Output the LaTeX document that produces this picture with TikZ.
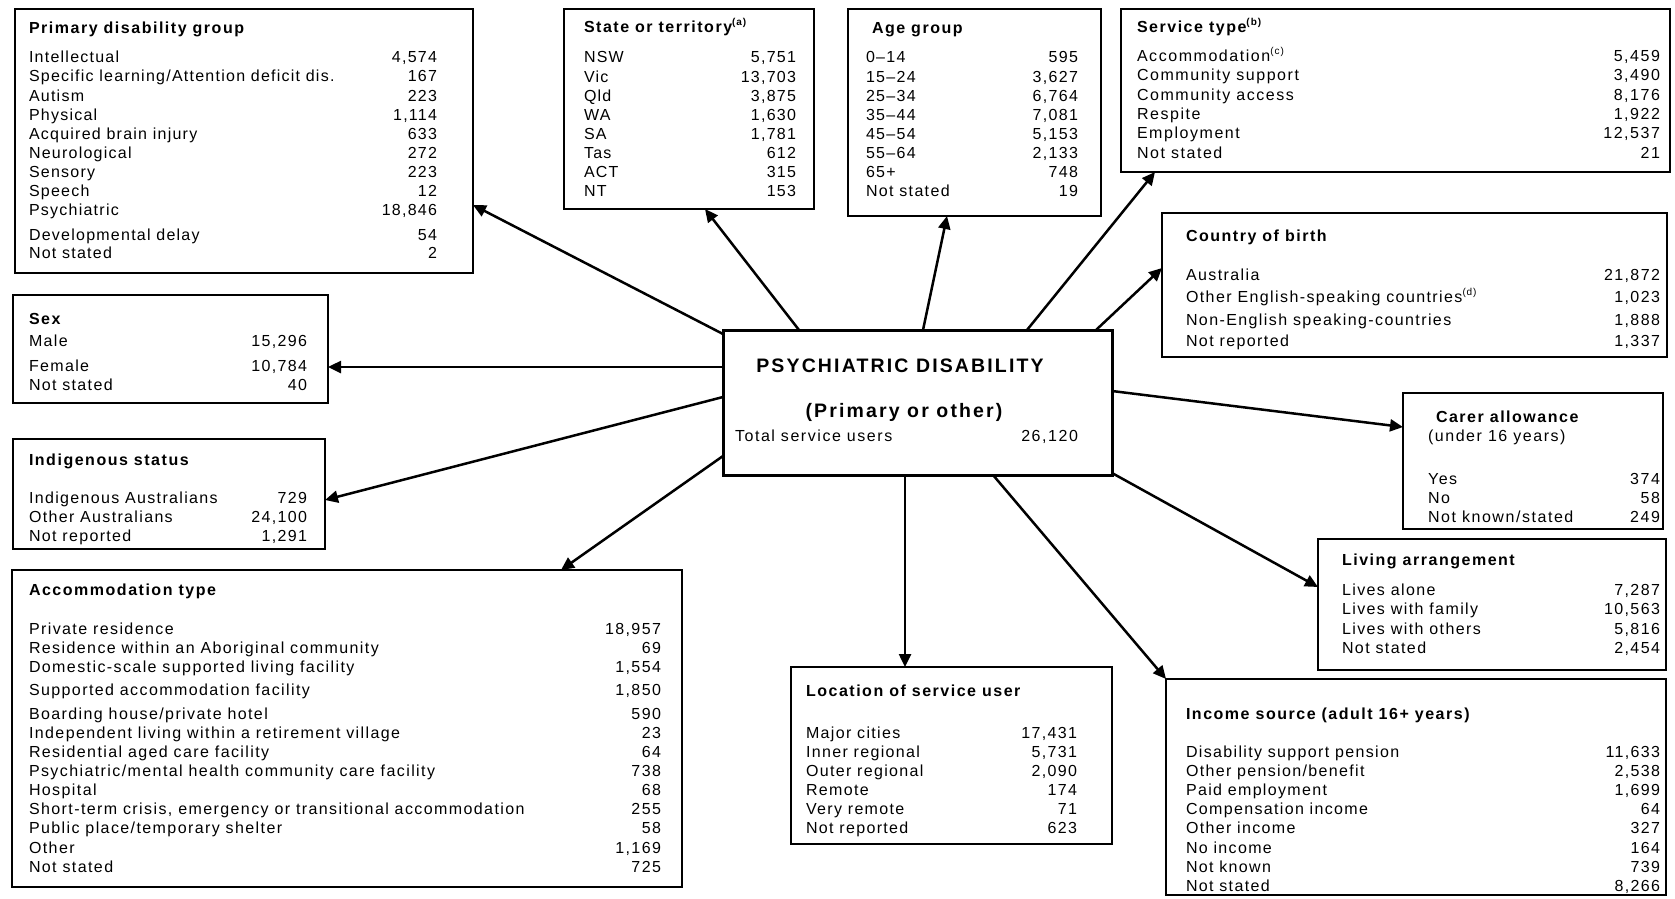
\documentclass[tikz,border=0pt]{standalone}
\usepackage{fontspec}
\setmainfont{Liberation Sans}[LetterSpace=8.3]
\newfontfamily\lsA{Liberation Sans}[LetterSpace=7.8]
\newfontfamily\lsB{Liberation Sans}[LetterSpace=8.4]
\newfontfamily\lsC{Liberation Sans}[LetterSpace=8.8]
\newfontfamily\lsD{Liberation Sans}[LetterSpace=9.7]
\newfontfamily\hdfont{Liberation Sans}[LetterSpace=9.5]
\newfontfamily\ctfont{Liberation Sans}[LetterSpace=11]
\usetikzlibrary{arrows.meta,calc,fit}
\newcommand\rw[5]{\node[txt,anchor=base west] (#1l#2) at (\xl,#3) {#4};\node[txt,anchor=base east] (#1v#2) at (\xr,#3) {#5};}
\newcommand\supb[1]{\raisebox{7pt}{\fontsize{10}{10}\selectfont\bfseries(#1)}}
\newcommand\supr[1]{\raisebox{7pt}{\fontsize{10}{10}\selectfont(#1)}}
\begin{document}
\begin{tikzpicture}[x=1pt,y=-1pt,
  txt/.style={inner sep=0pt,outer sep=0pt,font=\fontsize{16}{19}\rf\selectfont},
  hdr/.style={inner sep=0pt,outer sep=0pt,font=\fontsize{16}{19}\selectfont\hdfont\bfseries},
  box/.style={draw,line width=1.2pt,inner sep=0pt,outer sep=0pt},
  ctrbox/.style={draw,line width=3pt,inner sep=0pt,outer sep=0pt},
  arr/.style={line width=2.5pt,-{Triangle[length=13pt,width=12pt]}}]
\useasboundingbox (0,0) rectangle (1675,898);
\fill[white] (0,0) rectangle (1675,898);

% boxes
\node[box,fit={(15,9) (473,273)}] (pdg) {};
\node[box,fit={(564,9) (814,209)}] (sot) {};
\node[box,fit={(848,9) (1101,216)}] (age) {};
\node[box,fit={(1121,9) (1670,172)}] (svc) {};
\node[box,fit={(1162,213) (1667,357)}] (cob) {};
\node[box,fit={(13,295) (328,403)}] (sex) {};
\node[box,fit={(13,439) (325,549)}] (ind) {};
\node[box,fit={(12,570) (682,887)}] (acc) {};
\node[box,fit={(791,667) (1112,844)}] (loc) {};
\node[box,fit={(1403,393) (1663,529)}] (car) {};
\node[box,fit={(1318,539) (1666,670)}] (liv) {};
\node[box,fit={(1166,679) (1666,895)}] (inc) {};
\node[ctrbox,fit={(723,330) (1112,475)}] (ctr) {};

% centre text
\node[inner sep=0pt,font=\fontsize{19.5}{22}\selectfont\ctfont\bfseries,anchor=base] (ctrt1) at (900,372) {PSYCHIATRIC DISABILITY};
\node[inner sep=0pt,font=\fontsize{19.5}{22}\selectfont\ctfont\bfseries,anchor=base] (ctrt2) at (904,417) {(Primary or other)};
\def\rf{\lsD}
\node[txt,anchor=base west] (ctrl) at (735,441) {Total service users};
\node[txt,anchor=base east] (ctrv) at (1078,441) {26,120};

% Primary disability group
\def\rf{\lsA}\def\xl{29}\def\xr{437}
\node[hdr,anchor=base west] (pdgh) at (29,33) {Primary disability group};
\rw{pdg}{1}{62}{Intellectual}{4,574}
\rw{pdg}{2}{81}{Specific learning/Attention deficit dis.}{167}
\rw{pdg}{3}{101}{Autism}{223}
\rw{pdg}{4}{120}{Physical}{1,114}
\rw{pdg}{5}{139}{Acquired brain injury}{633}
\rw{pdg}{6}{158}{Neurological}{272}
\rw{pdg}{7}{177}{Sensory}{223}
\rw{pdg}{8}{196}{Speech}{12}
\rw{pdg}{9}{215}{Psychiatric}{18,846}
\rw{pdg}{10}{240}{Developmental delay}{54}
\rw{pdg}{11}{258}{Not stated}{2}

% State or territory
\def\rf{\lsA}\def\xl{584}\def\xr{796}
\node[hdr,anchor=base west] (soth) at (584,32) {State or territory\supb{a}};
\rw{sot}{1}{62}{NSW}{5,751}
\rw{sot}{2}{82}{Vic}{13,703}
\rw{sot}{3}{101}{Qld}{3,875}
\rw{sot}{4}{120}{WA}{1,630}
\rw{sot}{5}{139}{SA}{1,781}
\rw{sot}{6}{158}{Tas}{612}
\rw{sot}{7}{177}{ACT}{315}
\rw{sot}{8}{196}{NT}{153}

% Age group
\def\rf{\lsB}\def\xl{866}\def\xr{1078}
\node[hdr,anchor=base west] (ageh) at (872,33) {Age group};
\rw{age}{1}{62}{0–14}{595}
\rw{age}{2}{82}{15–24}{3,627}
\rw{age}{3}{101}{25–34}{6,764}
\rw{age}{4}{120}{35–44}{7,081}
\rw{age}{5}{139}{45–54}{5,153}
\rw{age}{6}{158}{55–64}{2,133}
\rw{age}{7}{177}{65+}{748}
\rw{age}{8}{196}{Not stated}{19}

% Service type
\def\rf{\lsD}\def\xl{1137}\def\xr{1660}
\node[hdr,anchor=base west] (svch) at (1137,32) {Service type\supb{b}};
\rw{svc}{1}{61}{Accommodation\supr{c}}{5,459}
\rw{svc}{2}{80}{Community support}{3,490}
\rw{svc}{3}{100}{Community access}{8,176}
\rw{svc}{4}{119}{Respite}{1,922}
\rw{svc}{5}{138}{Employment}{12,537}
\rw{svc}{6}{158}{Not stated}{21}

% Country of birth
\def\rf{\lsC}\def\xl{1186}\def\xr{1660}
\node[hdr,anchor=base west] (cobh) at (1186,241) {Country of birth};
\rw{cob}{1}{280}{Australia}{21,872}
\rw{cob}{2}{302}{Other English-speaking countries\supr{d}}{1,023}
\rw{cob}{3}{325}{Non-English speaking-countries}{1,888}
\rw{cob}{4}{346}{Not reported}{1,337}

% Sex
\def\rf{\lsB}\def\xl{29}\def\xr{307}
\node[hdr,anchor=base west] (sexh) at (29,324) {Sex};
\rw{sex}{1}{346}{Male}{15,296}
\rw{sex}{2}{371}{Female}{10,784}
\rw{sex}{3}{390}{Not stated}{40}

% Indigenous status
\def\rf{\lsB}\def\xl{29}\def\xr{307}
\node[hdr,anchor=base west] (indh) at (29,465) {Indigenous status};
\rw{ind}{1}{503}{Indigenous Australians}{729}
\rw{ind}{2}{522}{Other Australians}{24,100}
\rw{ind}{3}{541}{Not reported}{1,291}

% Accommodation type
\def\rf{\lsC}\def\xl{29}\def\xr{661}
\node[hdr,anchor=base west] (acch) at (29,595) {Accommodation type};
\rw{acc}{1}{634}{Private residence}{18,957}
\rw{acc}{2}{653}{Residence within an Aboriginal community}{69}
\rw{acc}{3}{672}{Domestic-scale supported living facility}{1,554}
\rw{acc}{4}{695}{Supported accommodation facility}{1,850}
\rw{acc}{5}{719}{Boarding house/private hotel}{590}
\rw{acc}{6}{738}{Independent living within a retirement village}{23}
\rw{acc}{7}{757}{Residential aged care facility}{64}
\rw{acc}{8}{776}{Psychiatric/mental health community care facility}{738}
\rw{acc}{9}{795}{Hospital}{68}
\rw{acc}{10}{814}{Short-term crisis, emergency or transitional accommodation}{255}
\rw{acc}{11}{833}{Public place/temporary shelter}{58}
\rw{acc}{12}{853}{Other}{1,169}
\rw{acc}{13}{872}{Not stated}{725}

% Location of service user
\def\rf{\lsB}\def\xl{806}\def\xr{1077}
\node[hdr,anchor=base west] (loch) at (806,696) {Location of service user};
\rw{loc}{1}{738}{Major cities}{17,431}
\rw{loc}{2}{757}{Inner regional}{5,731}
\rw{loc}{3}{776}{Outer regional}{2,090}
\rw{loc}{4}{795}{Remote}{174}
\rw{loc}{5}{814}{Very remote}{71}
\rw{loc}{6}{833}{Not reported}{623}

% Carer allowance
\def\rf{\lsD}\def\xl{1428}\def\xr{1660}
\node[hdr,anchor=base west] (carh) at (1436,422) {Carer allowance};
\node[txt,anchor=base west] (cars) at (1428,441) {(under 16 years)};
\rw{car}{1}{484}{Yes}{374}
\rw{car}{2}{503}{No}{58}
\rw{car}{3}{522}{Not known/stated}{249}

% Living arrangement
\def\rf{\lsC}\def\xl{1342}\def\xr{1660}
\node[hdr,anchor=base west] (livh) at (1342,565) {Living arrangement};
\rw{liv}{1}{595}{Lives alone}{7,287}
\rw{liv}{2}{614}{Lives with family}{10,563}
\rw{liv}{3}{634}{Lives with others}{5,816}
\rw{liv}{4}{653}{Not stated}{2,454}

% Income source
\def\rf{\lsB}\def\xl{1186}\def\xr{1660}
\node[hdr,anchor=base west] (inch) at (1186,719) {Income source (adult 16+ years)};
\rw{inc}{1}{757}{Disability support pension}{11,633}
\rw{inc}{2}{776}{Other pension/benefit}{2,538}
\rw{inc}{3}{795}{Paid employment}{1,699}
\rw{inc}{4}{814}{Compensation income}{64}
\rw{inc}{5}{833}{Other income}{327}
\rw{inc}{6}{853}{No income}{164}
\rw{inc}{7}{872}{Not known}{739}
\rw{inc}{8}{891}{Not stated}{8,266}

% connectors
\draw[arr] ($(ctr.north west)+(0,4)$) -- ($(pdg.north east)+(0,196)$);
\draw[arr] ($(ctr.north west)+(76,0)$) -- ($(sot.south west)+(141,0)$);
\draw[arr] ($(ctr.north west)+(200,0)$) -- ($(age.south west)+(99,0)$);
\draw[arr] ($(ctr.north west)+(304,0)$) -- ($(svc.south west)+(34,0)$);
\draw[arr] ($(ctr.north east)+(-16,0)$) -- ($(cob.north west)+(0,55)$);
\draw[arr] ($(ctr.north west)+(0,37)$) -- ($(sex.north east)+(0,72)$);
\draw[arr] ($(ctr.north west)+(0,67)$) -- ($(ind.north east)+(0,61)$);
\draw[arr] ($(ctr.north west)+(0,126)$) -- ($(acc.north west)+(549,0)$);
\draw[arr] ($(ctr.south west)+(182,0)$) -- ($(loc.north west)+(114,0)$);
\draw[arr] ($(ctr.south west)+(270,0)$) -- (inc.north west);
\draw[arr] ($(ctr.south east)+(0,-2)$) -- ($(liv.north west)+(0,48)$);
\draw[arr] ($(ctr.north east)+(0,61)$) -- ($(car.north west)+(0,34)$);
\end{tikzpicture}
\end{document}
